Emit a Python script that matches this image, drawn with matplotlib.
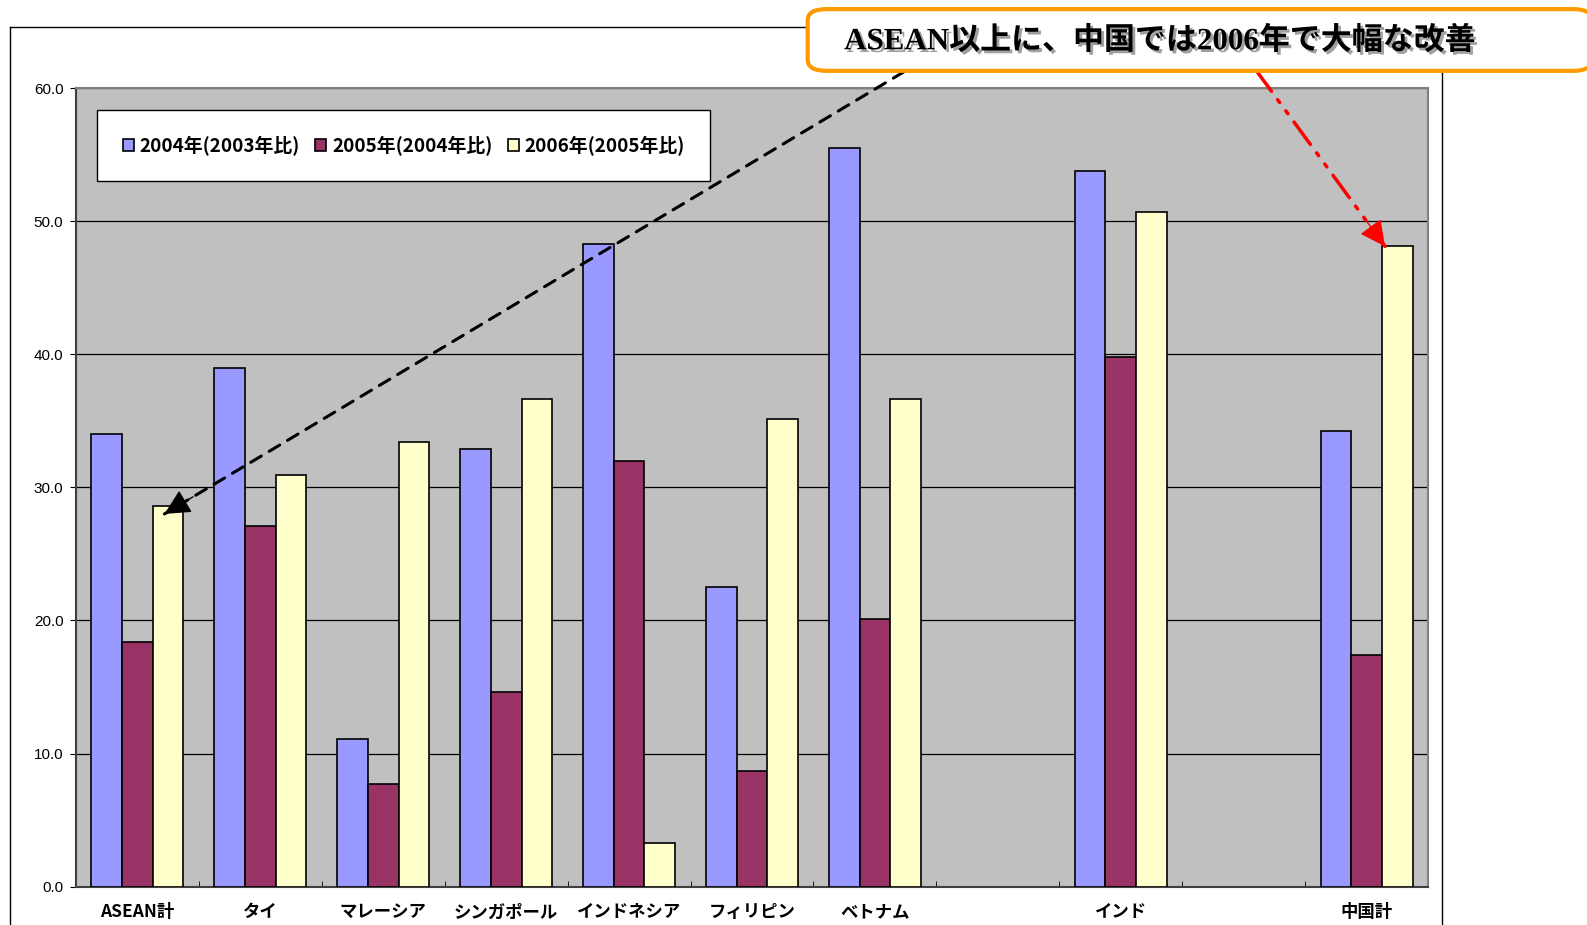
import numpy as np
import matplotlib
matplotlib.use('Agg')
import matplotlib.pyplot as plt
from matplotlib.patches import FancyBboxPatch
from matplotlib.lines import Line2D
import matplotlib.patheffects as pe

plt.rcParams['font.family'] = ['Liberation Sans', 'Noto Sans CJK JP']

categories = ['ASEAN計', 'タイ', 'マレーシア', 'シンガポール', 'インドネシア',
              'フィリピン', 'ベトナム', '', 'インド', '', '中国計']
series_names = ['2004年(2003年比)', '2005年(2004年比)', '2006年(2005年比)']
v2004 = [34.0, 39.0, 11.1, 32.9, 48.3, 22.5, 55.5, np.nan, 53.8, np.nan, 34.2]
v2005 = [18.4, 27.1, 7.7, 14.6, 32.0, 8.7, 20.1, np.nan, 39.8, np.nan, 17.4]
v2006 = [28.6, 30.9, 33.4, 36.6, 3.3, 35.1, 36.6, np.nan, 50.7, np.nan, 48.1]
colors = ['#9999FF', '#993366', '#FFFFCC']
yticks = [0, 10, 20, 30, 40, 50, 60]

W, H = 1587, 925
S = W / 1568  # layout measured on a 1568-wide view


def px(v):
    return v * S


fig = plt.figure(figsize=(W / 100, H / 100), dpi=100)
ax = fig.add_axes([px(75) / W, (H - px(876)) / H, px(1336) / W, px(789) / H])
ax.set_facecolor('#C0C0C0')

x = np.arange(len(categories))
w = 0.25
for k, vals in enumerate([v2004, v2005, v2006]):
    ax.bar(x + (k - 1) * w, vals, width=w, color=colors[k], edgecolor='black',
           linewidth=1.2, label=series_names[k], zorder=3)

ax.set_xlim(-0.5, len(categories) - 0.5)
ax.set_ylim(0, 60)
ax.set_yticks(yticks)
ax.set_yticklabels([f'{t:.1f}' for t in yticks], fontsize=11)
ax.yaxis.grid(True, color='black', linewidth=0.9, zorder=1)
ax.set_axisbelow(True)

ax.set_xticks(x)
ax.set_xticklabels(categories, fontsize=12.5, fontweight='bold',
                   family=['Noto Sans CJK JP', 'Liberation Sans'])
ax.tick_params(axis='x', length=0, pad=12)
ax.set_xticks(x[:-1] + 0.5, minor=True)
ax.tick_params(axis='x', which='minor', direction='in', length=4, color='black')
ax.tick_params(axis='y', direction='out', length=4, pad=5)

for s in ['top', 'right']:
    ax.spines[s].set_color('#808080')
    ax.spines[s].set_linewidth(1.5)
for s in ['left', 'bottom']:
    ax.spines[s].set_color('#404040')
    ax.spines[s].set_linewidth(1.5)

leg = ax.legend(loc='upper left', bbox_to_anchor=(0.0157, 0.972), ncol=3,
                fancybox=False, edgecolor='black', framealpha=1,
                prop={'family': ['Noto Sans CJK JP'], 'weight': 'bold', 'size': 13.6},
                handlelength=0.6, handleheight=0.6, handletextpad=0.3,
                columnspacing=0.8, borderpad=1.35, borderaxespad=0)
leg.get_frame().set_linewidth(1.0)

# outer chart frame
fl, ft, fr = px(10), H - px(27), px(1425)
for xs, ys in [([fl, fl], [0, ft]), ([fl, fr], [ft, ft]), ([fr, fr], [ft, 0])]:
    fig.add_artist(Line2D(np.array(xs) / W, np.array(ys) / H, color='black',
                          linewidth=1.0, transform=fig.transFigure))


def arrow(tip, tail_px, color, ls, lw):
    # dashed shaft
    ax.annotate('', xy=tip, xycoords='data', xytext=tail_px, textcoords='figure pixels',
                arrowprops=dict(arrowstyle='-', color=color, linestyle=ls, linewidth=lw,
                                shrinkA=0, shrinkB=0),
                annotation_clip=False)
    # solid head
    tx, ty = ax.transData.transform(tip)
    d = np.array(tail_px) - np.array([tx, ty])
    d = d / np.hypot(*d) * 24
    ax.annotate('', xy=tip, xycoords='data', xytext=(d[0], d[1]), textcoords='offset points',
                arrowprops=dict(arrowstyle='-|>,head_length=1.6,head_width=0.8',
                                color=color, linewidth=1, shrinkA=0, shrinkB=0),
                annotation_clip=False)


arrow((0.22, 28.0), (px(893), H - px(71)), 'black', (0, (4, 3)), 2.2)
arrow((10.15, 48.1), (px(1240), H - px(68)), 'red', (0, (8, 3, 1, 3, 1, 3)), 2.5)

# callout box
box = FancyBboxPatch((px(798) / W, (H - px(70)) / H), (W - px(798) + 5) / W, px(61) / H,
                     boxstyle='round,pad=0,rounding_size=0.012',
                     transform=fig.transFigure, facecolor='white',
                     edgecolor='#FF9900', linewidth=3, zorder=5)
fig.add_artist(box)
fig.text(px(834) / W, (H - px(41)) / H, 'ASEAN以上に、中国では2006年で大幅な改善',
         fontsize=22.3, fontweight='bold', va='center', ha='left',
         family=['Liberation Serif', 'Noto Sans CJK JP'], zorder=6,
         path_effects=[pe.withSimplePatchShadow(offset=(2, -2), shadow_rgbFace='#888888', alpha=0.8)])

fig.savefig('out.png', dpi=100)
